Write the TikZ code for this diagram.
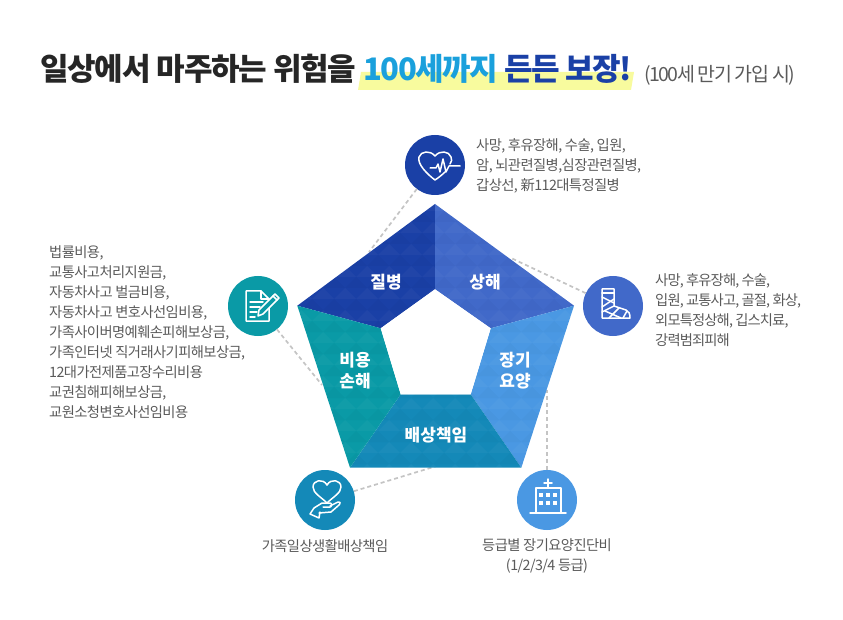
\documentclass[tikz,border=0pt]{standalone}
\usepackage{fontspec}
\setmainfont{Noto Sans CJK KR}
\newfontfamily\titlefont[LetterSpace = -3.8]{Noto Sans CJK KR}
\newfontfamily\titlefontb[LetterSpace = -4.5]{Noto Sans CJK KR}
\newfontfamily\subfont[LetterSpace = -8]{Noto Sans CJK KR}
\newfontfamily\listfont[LetterSpace = -4]{Noto Sans CJK KR}
\newfontfamily\listfontb[LetterSpace = -6]{Noto Sans CJK KR}
\definecolor{diseasecol}{HTML}{1A40A6}
\definecolor{injurycol}{HTML}{4169C9}
\definecolor{carecol}{HTML}{4A98E3}
\definecolor{liabilitycol}{HTML}{1489B8}
\definecolor{costcol}{HTML}{0A9AA6}
\definecolor{textcol}{HTML}{5A5A5A}
\definecolor{linecol}{HTML}{C4C4C4}
\definecolor{markcol}{HTML}{F8FB9E}
\definecolor{cyancol}{HTML}{1AA0DC}
\tikzset{
    badge/.style = {circle, minimum size = 60pt, inner sep = 0pt},
    itemlist/.style = {anchor = north west, align = left, inner sep = 0pt, text = textcol, font = \listfont\fontsize{14.3}{20}\selectfont},
    itemcenter/.style = {align = center, inner sep = 0pt, text = textcol, font = \listfont\fontsize{14.3}{20}\selectfont},
    segtext/.style = {align = center, inner sep = 0pt, text = white, font = \bfseries\fontsize{17}{21}\selectfont},
    link/.style = {draw = linecol, line width = 1.7pt, dash pattern = on 4pt off 3pt},
    icon/.style = {draw = white, line width = 1.5pt, line join = round, line cap = round}
}
\begin{document}
\begin{tikzpicture}[x = 1pt, y = -1pt]
    \useasboundingbox (0,0) rectangle (843,620);
    \fill[markcol] (361,72) -- (634,72) -- (631,90) -- (358,90) -- cycle;
    \node[anchor = west, inner sep = 0pt, font = \titlefont\bfseries\fontsize{31}{36}\selectfont, text = black!85] (titlea) at (40,69) {일상에서 마주하는 위험을};
    \node[anchor = west, inner sep = 0pt, font = \titlefontb\bfseries\fontsize{31}{36}\selectfont, text = cyancol] (titleb) at (363,69) {100세까지};
    \node[anchor = west, inner sep = 0pt, font = \titlefontb\bfseries\fontsize{31}{36}\selectfont, text = diseasecol] (titlec) at (504,69) {든든 보장!};
    \node[anchor = west, inner sep = 0pt, font = \subfont\fontsize{19.5}{24}\selectfont, text = textcol] (titled) at (644,75) {(100세 만기 가입 시)};

    \node[badge, fill = diseasecol] (disease) at (435,165) {};
    \node[badge, fill = injurycol] (injury) at (613,306) {};
    \node[badge, fill = costcol] (cost) at (258,306) {};
    \node[badge, fill = liabilitycol] (liability) at (325,500) {};
    \node[badge, fill = carecol] (care) at (547,500) {};

    \coordinate (diseaseend) at (369,252);
    \coordinate (injuryend) at (511,258);
    \coordinate (costend) at (322,385);
    \coordinate (liabilityend) at (440,465);
    \coordinate (careend) at (547,390);
    \draw[link] (disease) -- (diseaseend);
    \draw[link] (injury) -- (injuryend);
    \draw[link] (cost) -- (costend);
    \draw[link] (liability) -- (liabilityend);
    \draw[link] (care) -- (careend);

    \fill[diseasecol] (435,204) -- (435,289.3) -- (380.7,328.3) -- (297.3,305.7) -- cycle;
    \fill[injurycol] (435,204) -- (574,305.7) -- (490.7,328.3) -- (435,289.3) -- cycle;
    \fill[carecol] (574,305.7) -- (521.3,467.7) -- (470.7,394.3) -- (490.7,328.3) -- cycle;
    \fill[liabilitycol] (521.3,467.7) -- (350,467.7) -- (400.7,394.3) -- (470.7,394.3) -- cycle;
    \fill[costcol] (350,467.7) -- (297.3,305.7) -- (380.7,328.3) -- (400.7,394.3) -- cycle;

    \begin{scope}
        \clip (435,204) -- (574,305.7) -- (521.3,467.7) -- (350,467.7) -- (297.3,305.7) -- cycle;
        \foreach \x in {290, 312, ..., 582} {
            \foreach \y in {200, 222, ..., 470} {
                \fill[white, opacity = 0.03] (\x,\y+11) -- (\x+11,\y) -- (\x+22,\y+11) -- cycle;
                \fill[black, opacity = 0.02] (\x-11,\y+22) -- (\x,\y+11) -- (\x+11,\y+22) -- cycle;
            }
        }
        \fill[white] (435,289.3) -- (490.7,328.3) -- (470.7,394.3) -- (400.7,394.3) -- (380.7,328.3) -- cycle;
    \end{scope}

    \node[segtext] (diseaselabel) at (386,282) {질병};
    \node[segtext] (injurylabel) at (485,282) {상해};
    \node[segtext] (costlabel) at (355,371) {비용\\손해};
    \node[segtext] (carelabel) at (515,371) {장기\\요양};
    \node[segtext] (liabilitylabel) at (436,435) {배상책임};

    \node[itemlist] (diseaselist) at (476,138) {사망, 후유장해, 수술, 입원,\\암, 뇌관련질병,심장관련질병,\\갑상선, 新112대특정질병};
    \node[itemlist, font = \listfontb\fontsize{14.3}{20}\selectfont] (injurylist) at (655,273) {사망, 후유장해, 수술,\\입원, 교통사고, 골절, 화상,\\외모특정상해, 깁스치료,\\강력범죄피해};
    \node[itemlist] (costlist) at (49,245) {법률비용,\\교통사고처리지원금,\\자동차사고 벌금비용,\\자동차사고 변호사선임비용,\\가족사이버명예훼손피해보상금,\\가족인터넷 직거래사기피해보상금,\\12대가전제품고장수리비용\\교권침해피해보상금,\\교원소청변호사선임비용};
    \node[itemcenter] (liabilitylist) at (325,546) {가족일상생활배상책임};
    \node[itemcenter] (carelist) at (547,556) {등급별 장기요양진단비\\(1/2/3/4 등급)};

    \begin{scope}[shift = {(435,165)}]
        \draw[icon] (15,-1) .. controls (17,-3) and (17,-6) .. (16,-8) .. controls (14,-14) and (5,-15) .. (0,-9) .. controls (-5,-15) and (-14,-14) .. (-16,-8) .. controls (-18,-1) and (-8,9) .. (0,15) .. controls (3,13) and (7,10) .. (10,7);
        \draw[icon] (-5,3) -- (1,3) -- (3,-1) -- (5,7) -- (8,-6) -- (11,7) -- (14,1) -- (25,1);
    \end{scope}
    \begin{scope}[shift = {(613,306)}]
        \draw[icon] (-11,-17) -- (1,-17) -- (1,0) -- (13,4) .. controls (16,5) and (17,8) .. (17,12) -- (-11,12) -- cycle;
        \draw[icon] (-11,-13) -- (1,-13);
        \draw[icon] (-11,-9) -- (1,-3);
        \draw[icon] (1,-7) -- (-11,1);
        \draw[icon] (-11,6) -- (1,0);
        \draw[icon] (-4,12) -- (6,2);
        \draw[icon] (-8,5) -- (8,12);
        \draw[icon] (10,12) -- (14,5);
    \end{scope}
    \begin{scope}[shift = {(258,306)}]
        \draw[icon] (11,-3) -- (11,15) -- (-12,15) -- (-12,-15) -- (3,-15) -- (11,-7) -- (11,-3);
        \draw[icon] (3,-15) -- (3,-7) -- (11,-7);
        \draw[icon] (-8,-4) -- (5,-4);
        \draw[icon] (-8,1) -- (2,1);
        \draw[icon] (-8,6) -- (-1,6);
        \draw[icon] (-8,11) -- (-3,11);
        \fill[costcol] (17,-12) -- (21,-8) -- (5,8) -- (0,10) -- (1,4) -- cycle;
        \draw[icon] (17,-12) -- (21,-8) -- (5,8) -- (0,10) -- (1,4) -- cycle;
        \draw[icon] (15,-10) -- (19,-6);
    \end{scope}
    \begin{scope}[shift = {(325,500)}]
        \draw[icon] (2,3) .. controls (-4,-3) and (-12,-7) .. (-12,-13) .. controls (-12,-20) and (-2,-22) .. (2,-15) .. controls (6,-22) and (16,-20) .. (16,-13) .. controls (16,-7) and (8,-3) .. (2,3) -- cycle;
        \draw[icon] (-11,8) -- (-3,3) -- (5,3) .. controls (7,3) and (7,7) .. (5,7) -- (-2,7);
        \draw[icon] (5,6) -- (13,2) .. controls (15,1) and (16,3) .. (14,5) -- (6,12) -- (-6,13);
        \draw[icon] (-11,8) -- (-15,14) -- (-6,18) -- (-5,12);
    \end{scope}
    \begin{scope}[shift = {(547,500)}]
        \draw[icon] (-11,13) -- (-11,-12) -- (14,-12) -- (14,13);
        \draw[icon] (-17,13) -- (19,13);
        \draw[icon] (1,-21) -- (1,-13);
        \draw[icon] (-3,-17) -- (5,-17);
        \foreach \x in {-6, 1, 8} {
            \foreach \y in {-5, 3} {
                \fill[white] (\x-2,\y-2) rectangle (\x+2,\y+2);
            }
        }
    \end{scope}
\end{tikzpicture}
\end{document}
